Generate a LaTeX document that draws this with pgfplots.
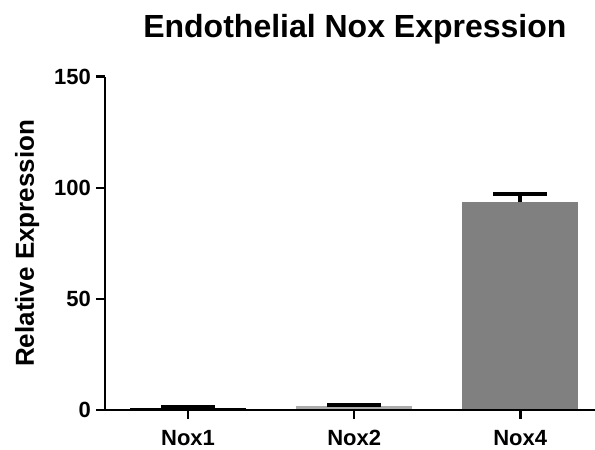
\documentclass[border=0pt]{standalone}
\usepackage{pgfplots}
\pgfplotsset{compat=1.18}
\usepackage{fontspec}
\setmainfont{Liberation Sans}
\definecolor{lgray}{HTML}{ABABAB}
\definecolor{mgray}{HTML}{808080}
\begin{document}
\begin{tikzpicture}
\begin{axis}[
  at={(0,0)}, anchor=south west,
  scale only axis, width=490bp, height=333.3bp,
  xmin=-0.5, xmax=2.45, ymin=0, ymax=150,
  axis x line*=bottom, axis y line*=left,
  axis line style={line width=2.5bp, black},
  axis on top,
  xtick={0,1,2}, xticklabels={Nox1,Nox2,Nox4},
  ytick={0,50,100,150},
  tick style={line width=2.5bp, black},
  tick align=outside,
  major tick length=9bp,
  ticklabel style={font=\fontsize{22bp}{24bp}\selectfont\bfseries},
  /pgf/number format/assume math mode=true,
  yticklabel style={inner sep=0pt, anchor=east, xshift=-5bp},
  xticklabel style={inner sep=0pt, anchor=base, yshift=-26bp},
  ylabel={Relative Expression},
  ylabel style={font=\fontsize{26bp}{28bp}\selectfont\bfseries, at={(axis description cs:-0.159,0.5)}, anchor=center},
  title={Endothelial Nox Expression},
  title style={font=\fontsize{32bp}{34bp}\selectfont\bfseries, at={(axis description cs:0.51,1)}, anchor=base, yshift=33bp, inner sep=0pt},
  error bars/error bar style={line width=4bp, black},
  error bars/error mark options={rotate=90, line width=4bp, black, mark size=27bp},
]
\addplot[ybar, bar width=0.7, bar shift=0pt, fill=black, draw=none,
  error bars/.cd, y dir=plus, y explicit] coordinates {(0,1) +- (0,0.3)};
\addplot[ybar, bar width=0.7, bar shift=0pt, fill=lgray, draw=none,
  error bars/.cd, y dir=plus, y explicit] coordinates {(1,2) +- (0,0.3)};
\addplot[ybar, bar width=0.7, bar shift=0pt, fill=mgray, draw=none,
  error bars/.cd, y dir=plus, y explicit] coordinates {(2,93.4) +- (0,4)};
\end{axis}
\pgfresetboundingbox
\useasboundingbox (-105bp,-40bp) rectangle (490bp,410bp);
\end{tikzpicture}
\end{document}
